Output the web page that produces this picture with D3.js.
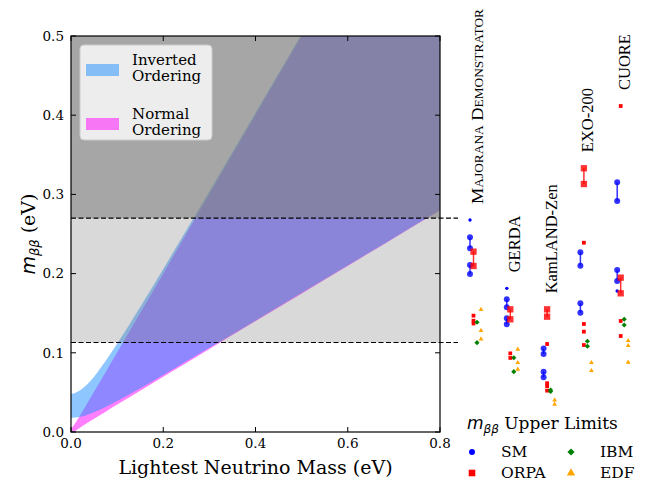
<!DOCTYPE html>
<html lang="en">
<head>
    <meta charset="UTF-8">
    <title>Neutrinoless double beta decay limits</title>
    <style>
        body { margin: 0; background: #fff; }
        text { font-family: "DejaVu Serif", serif; fill: #000; }
        .tick-label { font-size: 13.5px; }
        .exp-title { font-family: "Liberation Serif", serif; font-size: 16.5px; }
    </style>
    <script src="https://cdn.jsdelivr.net/npm/d3@7"></script>
</head>
<body>
<script type="text/javascript">
// band edges
var lightestMass = [0, 0.005, 0.01, 0.02, 0.03, 0.05, 0.075, 0.1, 0.15, 0.2, 0.3, 0.4, 0.5, 0.6, 0.7, 0.8];
var normalLow  = [0.0015, 0, 0.0016, 0.0057, 0.0095, 0.0168, 0.0257, 0.0346, 0.0522, 0.0697, 0.1048, 0.1398, 0.1747, 0.2097, 0.2447, 0.2797];
var normalHigh = [0.0037, 0.0075, 0.0119, 0.0213, 0.0310, 0.0507, 0.0755, 0.1004, 0.1503, 0.2002, 0.3001, 0.4001, 0.5001, 0.6001, 0.7001, 0.8000];
var invertedLow  = [0.0181, 0.0181, 0.0182, 0.0191, 0.0206, 0.0248, 0.0316, 0.0391, 0.0553, 0.0721, 0.1063, 0.1409, 0.1757, 0.2105, 0.2454, 0.2803];
var invertedHigh = [0.0484, 0.0487, 0.0496, 0.0526, 0.0573, 0.0699, 0.0895, 0.1113, 0.1578, 0.2059, 0.3040, 0.4030, 0.5024, 0.6020, 0.7017, 0.8015];

var limitLines = [0.113, 0.27];
var xTicks = [0, 0.2, 0.4, 0.6, 0.8];
var yTicks = [0, 0.1, 0.2, 0.3, 0.4, 0.5];

var experiments = ["Majorana Demonstrator", "GERDA", "KamLAND-Zen", "EXO-200", "CUORE"];
var smPairs = [[[0.2458, 0.2319], [0.2109, 0.1995]], [[0.1675, 0.1574], [0.1435, 0.1360]], [[0.1056, 0.0985], [0.0762, 0.0690]], [[0.2269, 0.2100], [0.1625, 0.1507]], [[0.3153, 0.2917], [0.2045, 0.1907]]];
var smSingles = [[0.2677], [0.1814], [], [], [0.1780]];
var orpaPairs = [[[0.2277, 0.2096]], [[0.1549, 0.1423]], [[0.1549, 0.1456]], [[0.3330, 0.3131]], [[0.1949, 0.1751]]];
var orpaSingles = [[0.1469, 0.1405, 0.1370], [0.0993, 0.0935], [0.1111, 0.0616, 0.0578, 0.0522], [0.2390, 0.1364, 0.1267, 0.1098], [0.4116, 0.1402, 0.1212]];
var ibmSingles = [[0.1385, 0.1128], [0.0938, 0.0762], [0.0530, 0.0512], [0.1145, 0.1082], [0.1423, 0.1351]];
var edfSingles = [[0.1545, 0.1280, 0.1174], [0.1044, 0.0875, 0.0791], [0.0404, 0.0350], [0.0875, 0.0774], [0.1153, 0.1090, 0.0880]];

var width = 645, height = 481;
var svg = d3.select("body").append("svg").attr("width", width).attr("height", height);

var x = d3.scaleLinear().domain([0, 0.8]).range([71, 440]);
var y = d3.scaleLinear().domain([0, 0.5]).range([432, 36]);

svg.append("clipPath").attr("id", "plot-clip")
    .append("rect").attr("x", 71).attr("y", 36).attr("width", 369).attr("height", 396);

var plot = svg.append("g").attr("clip-path", "url(#plot-clip)");

function band(lo, hi) {
    var pts = lightestMass.map(function(m, i) { return [m, lo[i], hi[i]]; });
    return d3.area().curve(d3.curveMonotoneX)
        .x(function(d) { return x(d[0]); })
        .y0(function(d) { return y(d[1]); })
        .y1(function(d) { return y(d[2]); })(pts);
}

plot.append("path").attr("d", band(normalLow, normalHigh)).attr("fill", "#ff00ff").attr("opacity", 0.5);
plot.append("path").attr("d", band(invertedLow, invertedHigh)).attr("fill", "#1e90ff").attr("opacity", 0.5);

// excluded regions
plot.append("rect").attr("x", x(0)).attr("width", x(0.8) - x(0))
    .attr("y", y(limitLines[1])).attr("height", y(limitLines[0]) - y(limitLines[1]))
    .attr("fill", "#808080").attr("opacity", 0.3);
plot.append("rect").attr("x", x(0)).attr("width", x(0.8) - x(0))
    .attr("y", y(0.5)).attr("height", y(limitLines[1]) - y(0.5))
    .attr("fill", "#808080").attr("opacity", 0.7);

// frame + inward ticks on all sides
var axes = svg.append("g");
axes.append("rect").attr("x", 71).attr("y", 36).attr("width", 369).attr("height", 396)
    .attr("fill", "none").attr("stroke", "#000").attr("stroke-width", 1.2);

xTicks.forEach(function(t) {
    axes.append("line").attr("x1", x(t)).attr("x2", x(t)).attr("y1", 432).attr("y2", 427).attr("stroke", "#000");
    axes.append("line").attr("x1", x(t)).attr("x2", x(t)).attr("y1", 36).attr("y2", 41).attr("stroke", "#000");
    axes.append("text").attr("class", "tick-label").attr("x", x(t)).attr("y", 448)
        .attr("text-anchor", "middle").text(d3.format(".1f")(t));
});
yTicks.forEach(function(t) {
    axes.append("line").attr("x1", 71).attr("x2", 76).attr("y1", y(t)).attr("y2", y(t)).attr("stroke", "#000");
    axes.append("line").attr("x1", 440).attr("x2", 435).attr("y1", y(t)).attr("y2", y(t)).attr("stroke", "#000");
    axes.append("text").attr("class", "tick-label").attr("x", 64).attr("y", y(t)).attr("dy", "0.36em")
        .attr("text-anchor", "end").text(d3.format(".1f")(t));
});

// dashed limit lines run past the frame
limitLines.forEach(function(v) {
    svg.append("line").attr("x1", x(0)).attr("x2", 458).attr("y1", y(v)).attr("y2", y(v))
        .attr("stroke", "#000").attr("stroke-width", 1.2).attr("stroke-dasharray", "5,2.5");
});

svg.append("text").attr("x", 255.5).attr("y", 474).attr("text-anchor", "middle")
    .style("font-size", "19px").text("Lightest Neutrino Mass (eV)");

var ylab = svg.append("text").attr("transform", "translate(35,234) rotate(-90)")
    .attr("text-anchor", "middle").style("font-size", "19px");
ylab.append("tspan").style("font-family", "DejaVu Sans").style("font-style", "italic").text("m");
ylab.append("tspan").style("font-family", "DejaVu Sans").style("font-style", "italic")
    .style("font-size", "13px").attr("dy", 4).text("ββ");
ylab.append("tspan").attr("dy", -4).text(" (eV)");

// band legend
var leg = svg.append("g");
leg.append("rect").attr("x", 80).attr("y", 45).attr("width", 132).attr("height", 95).attr("rx", 4)
    .attr("fill", "#fff").attr("fill-opacity", 0.8).attr("stroke", "#cccccc");
[["#1e90ff", 64, "Inverted"], ["#ff00ff", 118, "Normal"]].forEach(function(e) {
    leg.append("rect").attr("x", 86).attr("y", e[1]).attr("width", 33).attr("height", 12)
        .attr("fill", e[0]).attr("opacity", 0.5);
    leg.append("text").attr("x", 132).attr("y", e[1] + 1).style("font-size", "15px").text(e[2]);
    leg.append("text").attr("x", 132).attr("y", e[1] + 17).style("font-size", "15px").text("Ordering");
});

// experiment columns
var col = d3.scaleBand().domain(experiments).range([458, 642]);
var models = [
    { color: "#0000ff", dx: 0,  shape: d3.symbolCircle, big: 28, small: 9, rot: 0 },
    { color: "#ff0000", dx: 3.5, shape: d3.symbolSquare, big: 40, small: 14, rot: 0 },
    { color: "#008000", dx: 7,  shape: d3.symbolSquare, big: 13, small: 13, rot: 45 },
    { color: "#ffa500", dx: 11, shape: d3.symbolTriangle, big: 10, small: 10, rot: 0 }
];
var pairsByModel = [smPairs, orpaPairs, null, null];
var singlesByModel = [smSingles, orpaSingles, ibmSingles, edfSingles];

var pts = svg.append("g");
experiments.forEach(function(name, i) {
    var bx = col(name) + 12;
    var top = 0;
    models.forEach(function(m, k) {
        var px = bx + m.dx;
        var pairs = pairsByModel[k] ? pairsByModel[k][i] : [];
        pairs.forEach(function(p) {
            pts.append("line").attr("x1", px).attr("x2", px).attr("y1", y(p[0])).attr("y2", y(p[1]))
                .attr("stroke", m.color).attr("stroke-width", 1.5).attr("opacity", 0.8);
            p.forEach(function(v) {
                top = Math.max(top, v);
                pts.append("path").attr("d", d3.symbol().type(m.shape).size(m.big)())
                    .attr("transform", "translate(" + px + "," + y(v) + ") rotate(" + m.rot + ")")
                    .attr("fill", m.color).attr("opacity", 0.8);
            });
        });
        singlesByModel[k][i].forEach(function(v) {
            top = Math.max(top, v);
            pts.append("path").attr("d", d3.symbol().type(m.shape).size(m.small)())
                .attr("transform", "translate(" + px + "," + y(v) + ") rotate(" + m.rot + ")")
                .attr("fill", m.color);
        });
    });
    var t = svg.append("text").attr("class", "exp-title")
        .attr("transform", "translate(" + (bx + 13) + "," + (y(top) - 16) + ") rotate(-90)")
        .text(name);
    if (i === 0) {
        t.style("font-variant", "small-caps").attr("textLength", 195).attr("lengthAdjust", "spacingAndGlyphs");
    }
});

// marker legend
var ml = svg.append("g");
var mt = ml.append("text").attr("x", 467).attr("y", 429).style("font-size", "17px");
mt.append("tspan").style("font-family", "DejaVu Sans").style("font-style", "italic").text("m");
mt.append("tspan").style("font-family", "DejaVu Sans").style("font-style", "italic")
    .style("font-size", "12px").attr("dy", 4).text("ββ");
mt.append("tspan").attr("dy", -4).text(" Upper Limits");

var legendNames = ["SM", "ORPA", "IBM", "EDF"];
var legendSizes = [28, 44, 26, 30];
legendNames.forEach(function(n, k) {
    var lx = k < 2 ? 472 : 571;
    var ly = k % 2 === 0 ? 452 : 473;
    var m = models[k];
    ml.append("path").attr("d", d3.symbol().type(m.shape).size(legendSizes[k])())
        .attr("transform", "translate(" + lx + "," + ly + ") rotate(" + m.rot + ")")
        .attr("fill", m.color);
    ml.append("text").attr("x", lx + 29).attr("y", ly + 5).style("font-size", "15.5px").text(n);
});
</script>
</body>
</html>
